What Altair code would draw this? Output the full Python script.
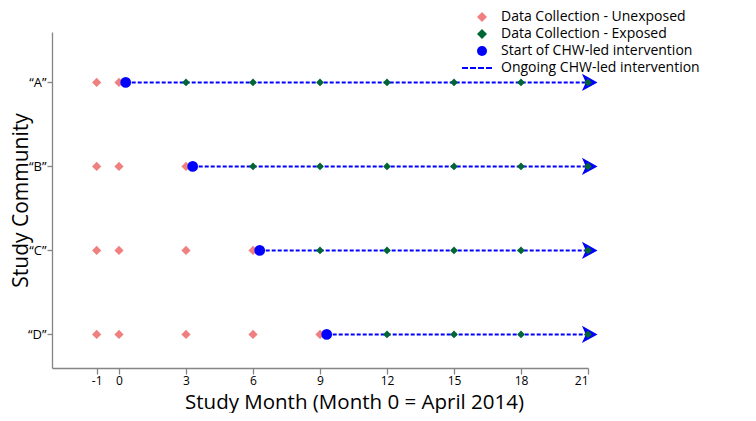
import altair as alt
import pandas as pd

# ---- data ----
communities = ["A", "B", "C", "D"]
row_values = [4, 3, 2, 1]
tick_labels = ["\u201cA\u201d", "\u201cB\u201d", "\u201cC\u201d", "\u201cD\u201d"]

unexposed_A = [-1, 0]
unexposed_B = [-1, 0, 3]
unexposed_C = [-1, 0, 3, 6]
unexposed_D = [-1, 0, 3, 6, 9]

exposed_A = [3, 6, 9, 12, 15, 18, 21]
exposed_B = [6, 9, 12, 15, 18, 21]
exposed_C = [9, 12, 15, 18, 21]
exposed_D = [12, 15, 18, 21]

start_months = [0.3, 3.3, 6.3, 9.3]
end_month = 21

x_ticks = [-1, 0, 3, 6, 9, 12, 15, 18, 21]

series_names = [
    "Data Collection - Unexposed",
    "Data Collection - Exposed",
    "Start of CHW-led intervention",
    "Ongoing CHW-led intervention",
]
series_colors = ["#f08080", "#006634", "#0000ff", "#0000ff"]
dash_path = ("M-4,-0.2H-2.8V0.2H-4Z M-2.4,-0.2H-1.2V0.2H-2.4Z "
             "M-0.8,-0.2H0.4V0.2H-0.8Z M0.8,-0.2H2V0.2H0.8Z")
series_shapes = ["diamond", "diamond", "circle", dash_path]
arrow_path = "M-0.7,-1L1.1,0L-0.7,1L-0.25,0Z"

# ---- tables ----
unexposed = [unexposed_A, unexposed_B, unexposed_C, unexposed_D]
exposed = [exposed_A, exposed_B, exposed_C, exposed_D]

unexp_rows, exp_rows, start_rows = [], [], []
for c, r, ms in zip(communities, row_values, unexposed):
    for m in ms:
        unexp_rows.append({"community": c, "row": r, "month": m, "series": series_names[0]})
for c, r, ms in zip(communities, row_values, exposed):
    for m in ms:
        exp_rows.append({"community": c, "row": r, "month": m, "series": series_names[1]})
for c, r, m in zip(communities, row_values, start_months):
    start_rows.append({"community": c, "row": r, "month": m, "series": series_names[2]})

lines = []
for c, r, m in zip(communities, row_values, start_months):
    lines.append({"community": c, "row": r, "month": m})
    lines.append({"community": c, "row": r, "month": end_month})
lines_df = pd.DataFrame(lines)

arrow_df = pd.DataFrame({"community": communities, "row": row_values,
                         "month": [end_month] * len(communities)})

label_expr = " : ".join(
    f"datum.value == {v} ? '{t}'" for v, t in zip(row_values, tick_labels)
) + " : ''"

x_scale = alt.Scale(domain=[-3, 21], nice=False, zero=False)
y_scale = alt.Scale(domain=[0.6, 4.6], nice=False, zero=False)

x_axis = alt.Axis(
    values=x_ticks, labelExpr="toString(datum.value)", labelPadding=1,
    title="Study Month (Month 0 = April 2014)", titleFontSize=20.5,
    titleX=302, titleY=40, titleBaseline="alphabetic", titleAlign="center",
)
y_axis = alt.Axis(
    values=row_values, labelExpr=label_expr, title="Study Community",
    titleFontSize=21,
    titleX=-25, titleY=168, titleAngle=270, titleBaseline="alphabetic",
    titleAlign="center", labelFontSize=13, tickSize=5, labelPadding=1,
)

line_layer = alt.Chart(lines_df).mark_line(
    color="#0000ff", strokeDash=[4, 2], strokeWidth=2
).encode(
    x=alt.X("month:Q", scale=x_scale, axis=x_axis),
    y=alt.Y("row:Q", scale=y_scale, axis=y_axis),
    detail="community:N",
)

arrow_layer = alt.Chart(arrow_df).mark_point(
    shape=arrow_path, filled=True, size=300, color="#0000ff", opacity=1
).encode(
    x=alt.X("month:Q", scale=x_scale),
    y=alt.Y("row:Q", scale=y_scale),
)

legend = alt.Legend(
    title=None, orient="none", legendX=423, legendY=-22, padding=0,
    labelFont="Open Sans", labelFontSize=14, labelColor="black",
    labelOffset=12, labelLimit=400, rowPadding=3, symbolSize=100,
    symbolStrokeWidth=0, symbolOpacity=1,
)

color_enc = alt.Color("series:N", scale=alt.Scale(domain=series_names, range=series_colors), legend=legend)
shape_enc = alt.Shape("series:N", scale=alt.Scale(domain=series_names, range=series_shapes), legend=legend)


def point_layer(rows, size):
    return alt.Chart(pd.DataFrame(rows)).mark_point(filled=True, opacity=1, size=size).encode(
        x=alt.X("month:Q", scale=x_scale),
        y=alt.Y("row:Q", scale=y_scale),
        color=color_enc,
        shape=shape_enc,
    )


chart = alt.layer(
    line_layer, arrow_layer,
    point_layer(unexp_rows, 85),
    point_layer(exp_rows, 60),
    point_layer(start_rows, 115),
).properties(
    width=536, height=336,
    autosize=alt.AutoSizeParams(type="none"),
    padding={"left": 44, "top": 24, "right": 160, "bottom": 45},
).configure_view(stroke=None).configure_axis(
    grid=False, domainColor="#858585", tickColor="#858585", domainWidth=1.3,
    tickWidth=1.3, tickSize=6, labelFont="Open Sans", labelFontSize=12,
    labelColor="black", titleFont="Open Sans", titleFontSize=20,
    titleFontWeight="normal", titleColor="black",
)

chart.save("out.html", embed_options={"renderer": "svg", "actions": False})
